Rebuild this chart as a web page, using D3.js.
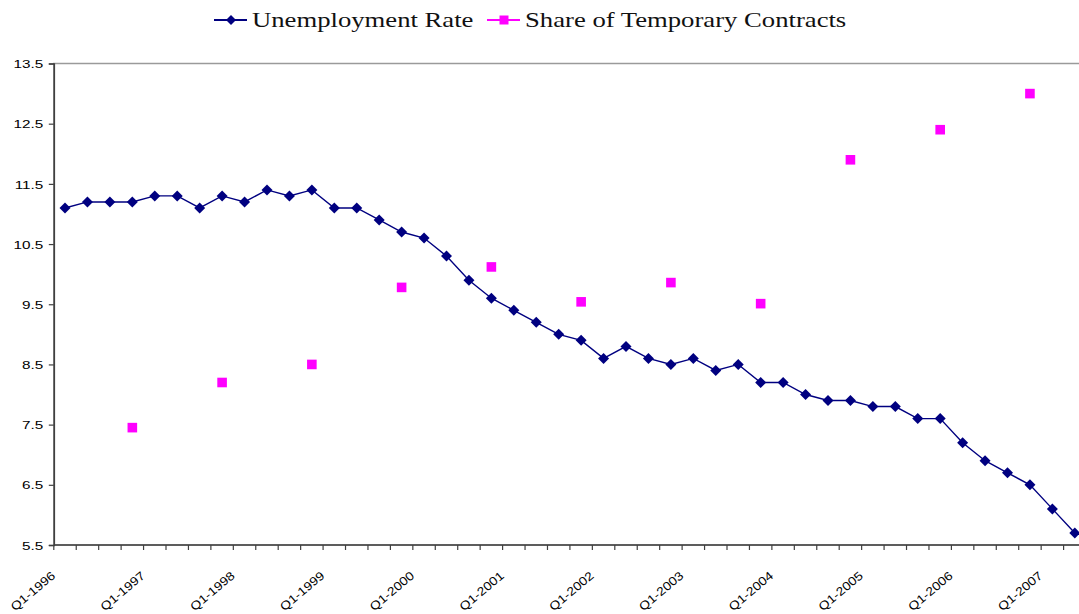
<!DOCTYPE html>
<html>
<head>
<meta charset="utf-8">
<script src="https://cdn.jsdelivr.net/npm/d3@7"></script>
<style>
  html, body { margin: 0; padding: 0; background: #fff; }
  svg { display: block; }
</style>
</head>
<body>
<svg id="chart" width="1079" height="614"></svg>
<script>
// Quarterly categories, Q1-1996 .. Q2-2007
const quarters = [
  "Q1-1996","Q2-1996","Q3-1996","Q4-1996",
  "Q1-1997","Q2-1997","Q3-1997","Q4-1997",
  "Q1-1998","Q2-1998","Q3-1998","Q4-1998",
  "Q1-1999","Q2-1999","Q3-1999","Q4-1999",
  "Q1-2000","Q2-2000","Q3-2000","Q4-2000",
  "Q1-2001","Q2-2001","Q3-2001","Q4-2001",
  "Q1-2002","Q2-2002","Q3-2002","Q4-2002",
  "Q1-2003","Q2-2003","Q3-2003","Q4-2003",
  "Q1-2004","Q2-2004","Q3-2004","Q4-2004",
  "Q1-2005","Q2-2005","Q3-2005","Q4-2005",
  "Q1-2006","Q2-2006","Q3-2006","Q4-2006",
  "Q1-2007","Q2-2007"
];

// Unemployment rate (%), one value per quarter
const unemploymentRate = [
  11.1, 11.2, 11.2, 11.2,
  11.3, 11.3, 11.1, 11.3,
  11.2, 11.4, 11.3, 11.4,
  11.1, 11.1, 10.9, 10.7,
  10.6, 10.3, 9.9, 9.6,
  9.4, 9.2, 9.0, 8.9,
  8.6, 8.8, 8.6, 8.5,
  8.6, 8.4, 8.5, 8.2,
  8.2, 8.0, 7.9, 7.9,
  7.8, 7.8, 7.6, 7.6,
  7.2, 6.9, 6.7, 6.5,
  6.1, 5.7
];

// Share of temporary contracts (%), observed once a year in Q4
const temporaryQuarters = [
  "Q4-1996","Q4-1997","Q4-1998","Q4-1999","Q4-2000","Q4-2001",
  "Q4-2002","Q4-2003","Q4-2004","Q4-2005","Q4-2006"
];
const temporaryShare = [
  7.45, 8.2, 8.5, 9.78, 10.12, 9.54,
  9.86, 9.51, 11.9, 12.4, 13.0
];

// Axis labels
const xTickLabels = [
  "Q1-1996","Q1-1997","Q1-1998","Q1-1999","Q1-2000","Q1-2001",
  "Q1-2002","Q1-2003","Q1-2004","Q1-2005","Q1-2006","Q1-2007"
];
const yTicks = [5.5, 6.5, 7.5, 8.5, 9.5, 10.5, 11.5, 12.5, 13.5];

const seriesNames = ["Unemployment Rate", "Share of Temporary Contracts"];
const seriesColors = ["#000080", "#ff00ff"];

// Text is drawn slightly widened horizontally
const SX = 1.33;

const svg = d3.select("#chart");

const plot = { left: 53.8, top: 63.5, bottom: 545, step: 22.44 };
plot.right = plot.left + quarters.length * plot.step;

const x = d3.scaleBand()
  .domain(quarters)
  .range([plot.left, plot.right])
  .paddingInner(0).paddingOuter(0);

const y = d3.scaleLinear()
  .domain([5.5, 13.5])
  .range([plot.bottom, plot.top]);

const cx = q => x(q) + x.bandwidth() / 2;

// Plot area frame
svg.append("rect")
  .attr("x", plot.left).attr("y", y(13.5))
  .attr("width", plot.right - plot.left)
  .attr("height", y(5.5) - y(13.5))
  .attr("fill", "none")
  .attr("stroke", "#9a9a9a")
  .attr("stroke-width", 1.5);

// Y axis
const yAxis = d3.axisLeft(y)
  .tickValues(yTicks)
  .tickSize(5)
  .tickPadding(0)
  .tickFormat(d3.format(".1f"));

const gy = svg.append("g")
  .attr("transform", `translate(${plot.left},0)`)
  .call(yAxis);
gy.select(".domain").attr("stroke", "#404040").attr("stroke-width", 1.6);
gy.selectAll(".tick line").attr("stroke", "#404040").attr("stroke-width", 1.2);
gy.selectAll(".tick text").remove();
gy.selectAll(".tick").append("text")
  .attr("transform", `translate(-10.5,0) scale(${SX},1)`)
  .attr("text-anchor", "end")
  .attr("dy", "0.36em")
  .attr("fill", "#000")
  .style("font-family", "'Liberation Sans', Arial, sans-serif")
  .style("font-size", "11.5px")
  .text(d => d3.format(".1f")(d));

// X axis: baseline with ticks between categories
const gx = svg.append("g");
gx.append("line")
  .attr("x1", plot.left).attr("x2", plot.right)
  .attr("y1", plot.bottom).attr("y2", plot.bottom)
  .attr("stroke", "#404040").attr("stroke-width", 1.6);
gx.selectAll("line.xtick")
  .data(quarters.concat([null]))
  .join("line")
  .attr("class", "xtick")
  .attr("x1", d => d === null ? plot.right : x(d))
  .attr("x2", d => d === null ? plot.right : x(d))
  .attr("y1", plot.bottom).attr("y2", plot.bottom + 5)
  .attr("stroke", "#404040").attr("stroke-width", 1.2);

gx.selectAll("text.xlabel")
  .data(xTickLabels)
  .join("text")
  .attr("class", "xlabel")
  .attr("transform", d => `translate(${cx(d) - 9},${plot.bottom + 32}) rotate(-40) scale(1.15,1)`)
  .attr("text-anchor", "end")
  .attr("fill", "#000")
  .style("font-family", "'Liberation Sans', Arial, sans-serif")
  .style("font-size", "12px")
  .text(d => d);

// Diamond and square marker paths
const diamond = (w, h) => `M0,${-h}L${w},0L0,${h}L${-w},0Z`;
const square = s => `M${-s},${-s}H${s}V${s}H${-s}Z`;

// Unemployment rate line with diamond markers
const line = d3.line()
  .x((d, i) => cx(quarters[i]))
  .y(d => y(d));

svg.append("path")
  .datum(unemploymentRate)
  .attr("d", line)
  .attr("fill", "none")
  .attr("stroke", seriesColors[0])
  .attr("stroke-width", 1.4);

svg.append("g").selectAll("path")
  .data(unemploymentRate)
  .join("path")
  .attr("transform", (d, i) => `translate(${cx(quarters[i])},${y(d)})`)
  .attr("d", diamond(5.5, 5.5))
  .attr("fill", seriesColors[0]);

// Temporary contracts share as square markers
svg.append("g").selectAll("path")
  .data(temporaryShare)
  .join("path")
  .attr("transform", (d, i) => `translate(${cx(temporaryQuarters[i])},${y(d)})`)
  .attr("d", square(4.8))
  .attr("fill", seriesColors[1]);

// Legend
const legend = svg.append("g");
const legendItems = [
  { name: seriesNames[0], color: seriesColors[0], x0: 214, marker: diamond(5, 5) },
  { name: seriesNames[1], color: seriesColors[1], x0: 487, marker: square(4.5) }
];
const legendY = 20;
legendItems.forEach(item => {
  legend.append("line")
    .attr("x1", item.x0).attr("x2", item.x0 + 33)
    .attr("y1", legendY).attr("y2", legendY)
    .attr("stroke", item.color).attr("stroke-width", 2);
  legend.append("path")
    .attr("transform", `translate(${item.x0 + 17},${legendY})`)
    .attr("d", item.marker)
    .attr("fill", item.color);
  legend.append("text")
    .attr("transform", `translate(${item.x0 + 38},27) scale(1.27,1)`)
    .attr("fill", "#111")
    .style("font-family", "'Liberation Serif', 'Times New Roman', serif")
    .style("font-size", "21px")
    .text(item.name);
});
</script>
</body>
</html>
